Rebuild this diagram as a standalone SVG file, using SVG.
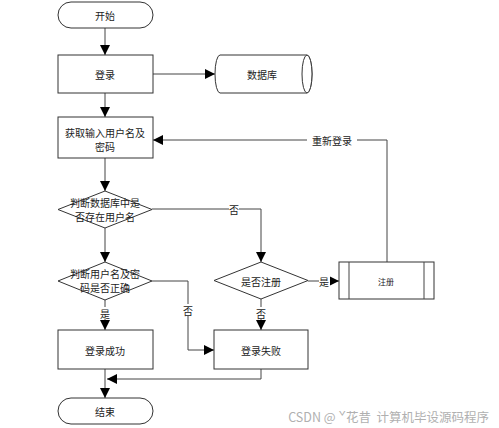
<svg xmlns="http://www.w3.org/2000/svg" width="499" height="428" viewBox="0 0 499 428">
<style>
.s{fill:#fff;stroke:#333;stroke-width:1}
.t{font-family:"Noto Sans CJK SC","Liberation Sans",sans-serif;font-size:10px;fill:#222;text-anchor:middle;dominant-baseline:central}
.l{fill:none;stroke:#444;stroke-width:1}
.lb{font-family:"Noto Sans CJK SC","Liberation Sans",sans-serif;font-size:10px;fill:#222;text-anchor:middle;dominant-baseline:central}
.bg{fill:#fff}
</style>
<defs>
<marker id="a" viewBox="0 0 10 10" refX="10" refY="5" markerWidth="10" markerHeight="10" markerUnits="userSpaceOnUse" orient="auto">
<path d="M0,0 L10,5 L0,10 z" fill="#000"/>
</marker>
</defs>
<rect width="499" height="428" fill="#fff"/>
<g id="connectors">
<path class="l" d="M105,28 V55" marker-end="url(#a)"/>
<path class="l" d="M153,74 H215" marker-end="url(#a)"/>
<path class="l" d="M105,93 V117" marker-end="url(#a)"/>
<path class="l" d="M105,158 V191" marker-end="url(#a)"/>
<path class="l" d="M152,209 H261 V262" marker-end="url(#a)"/>
<path class="l" d="M105,228 V262" marker-end="url(#a)"/>
<path class="l" d="M105,300 V330" marker-end="url(#a)"/>
<path class="l" d="M152,281 H188 V350 H214" marker-end="url(#a)"/>
<path class="l" d="M261,299 V330" marker-end="url(#a)"/>
<path class="l" d="M308,281 H339" marker-end="url(#a)"/>
<path class="l" d="M387,262 V140 H153" marker-end="url(#a)"/>
<path class="l" d="M261,369 V379 H107" marker-end="url(#a)"/>
<path class="l" d="M105,369 V398" marker-end="url(#a)"/>
<rect class="bg" x="229" y="203" width="10" height="12"/>
<text class="lb" x="234" y="209">否</text>
<rect class="bg" x="307" y="134" width="50" height="12"/>
<text class="lb" x="332" y="140">重新登录</text>
<rect class="bg" x="100" y="307" width="10" height="12"/>
<text class="lb" x="105" y="313">是</text>
<rect class="bg" x="183" y="304" width="10" height="12"/>
<text class="lb" x="188" y="310">否</text>
<rect class="bg" x="256" y="307" width="10" height="12"/>
<text class="lb" x="261" y="313">否</text>
<rect class="bg" x="319" y="275" width="11" height="12"/>
<text class="lb" x="324" y="281">是</text>
</g>
<g id="start">
<rect class="s" x="58" y="2" width="95" height="26" rx="13"/>
<text class="t" x="105" y="15">开始</text>
</g>
<g id="login">
<rect class="s" x="58" y="55" width="95" height="38"/>
<text class="t" x="105" y="74">登录</text>
</g>
<g id="database">
<path class="s" d="M220,55 H307 A5,19 0 0 1 307,93 H220 A5,19 0 0 1 220,55 z"/>
<ellipse class="s" cx="307" cy="74" rx="5" ry="19"/>
<text class="t" x="262" y="74">数据库</text>
</g>
<g id="input">
<rect class="s" x="58" y="117" width="95" height="41"/>
<text class="t" x="105" y="132">获取输入用户名及</text>
<text class="t" x="105" y="146">密码</text>
</g>
<g id="check-user">
<path class="s" d="M105,191 L152,209.5 L105,228 L58,209.5 z"/>
<text class="t" x="105" y="202">判断数据库中是</text>
<text class="t" x="105" y="216">否存在用户名</text>
</g>
<g id="check-pwd">
<path class="s" d="M105,262 L152,281 L105,300 L58,281 z"/>
<text class="t" x="105" y="273">判断用户名及密</text>
<text class="t" x="105" y="287">码是否正确</text>
</g>
<g id="register-q">
<path class="s" d="M261,262 L308,280.5 L261,299 L214,280.5 z"/>
<text class="t" x="261" y="281">是否注册</text>
</g>
<g id="register">
<rect class="s" x="339" y="262" width="95" height="37"/>
<line class="l" x1="349" y1="262" x2="349" y2="299"/>
<line class="l" x1="424" y1="262" x2="424" y2="299"/>
<text class="t" x="386" y="281" style="font-size:8px">注册</text>
</g>
<g id="success">
<rect class="s" x="58" y="330" width="95" height="39"/>
<text class="t" x="105" y="350">登录成功</text>
</g>
<g id="fail">
<rect class="s" x="214" y="330" width="94" height="39"/>
<text class="t" x="261" y="350">登录失败</text>
</g>
<g id="end">
<rect class="s" x="58" y="398" width="95" height="26" rx="13"/>
<text class="t" x="105" y="411">结束</text>
</g>
<text x="489" y="416" style="font-family:'Noto Sans CJK SC','Liberation Sans',sans-serif;font-size:12.5px;fill:#b0b0b0;text-anchor:end;dominant-baseline:central">CSDN @ ˇ花昔&#160; 计算机毕设源码程序</text>
</svg>
